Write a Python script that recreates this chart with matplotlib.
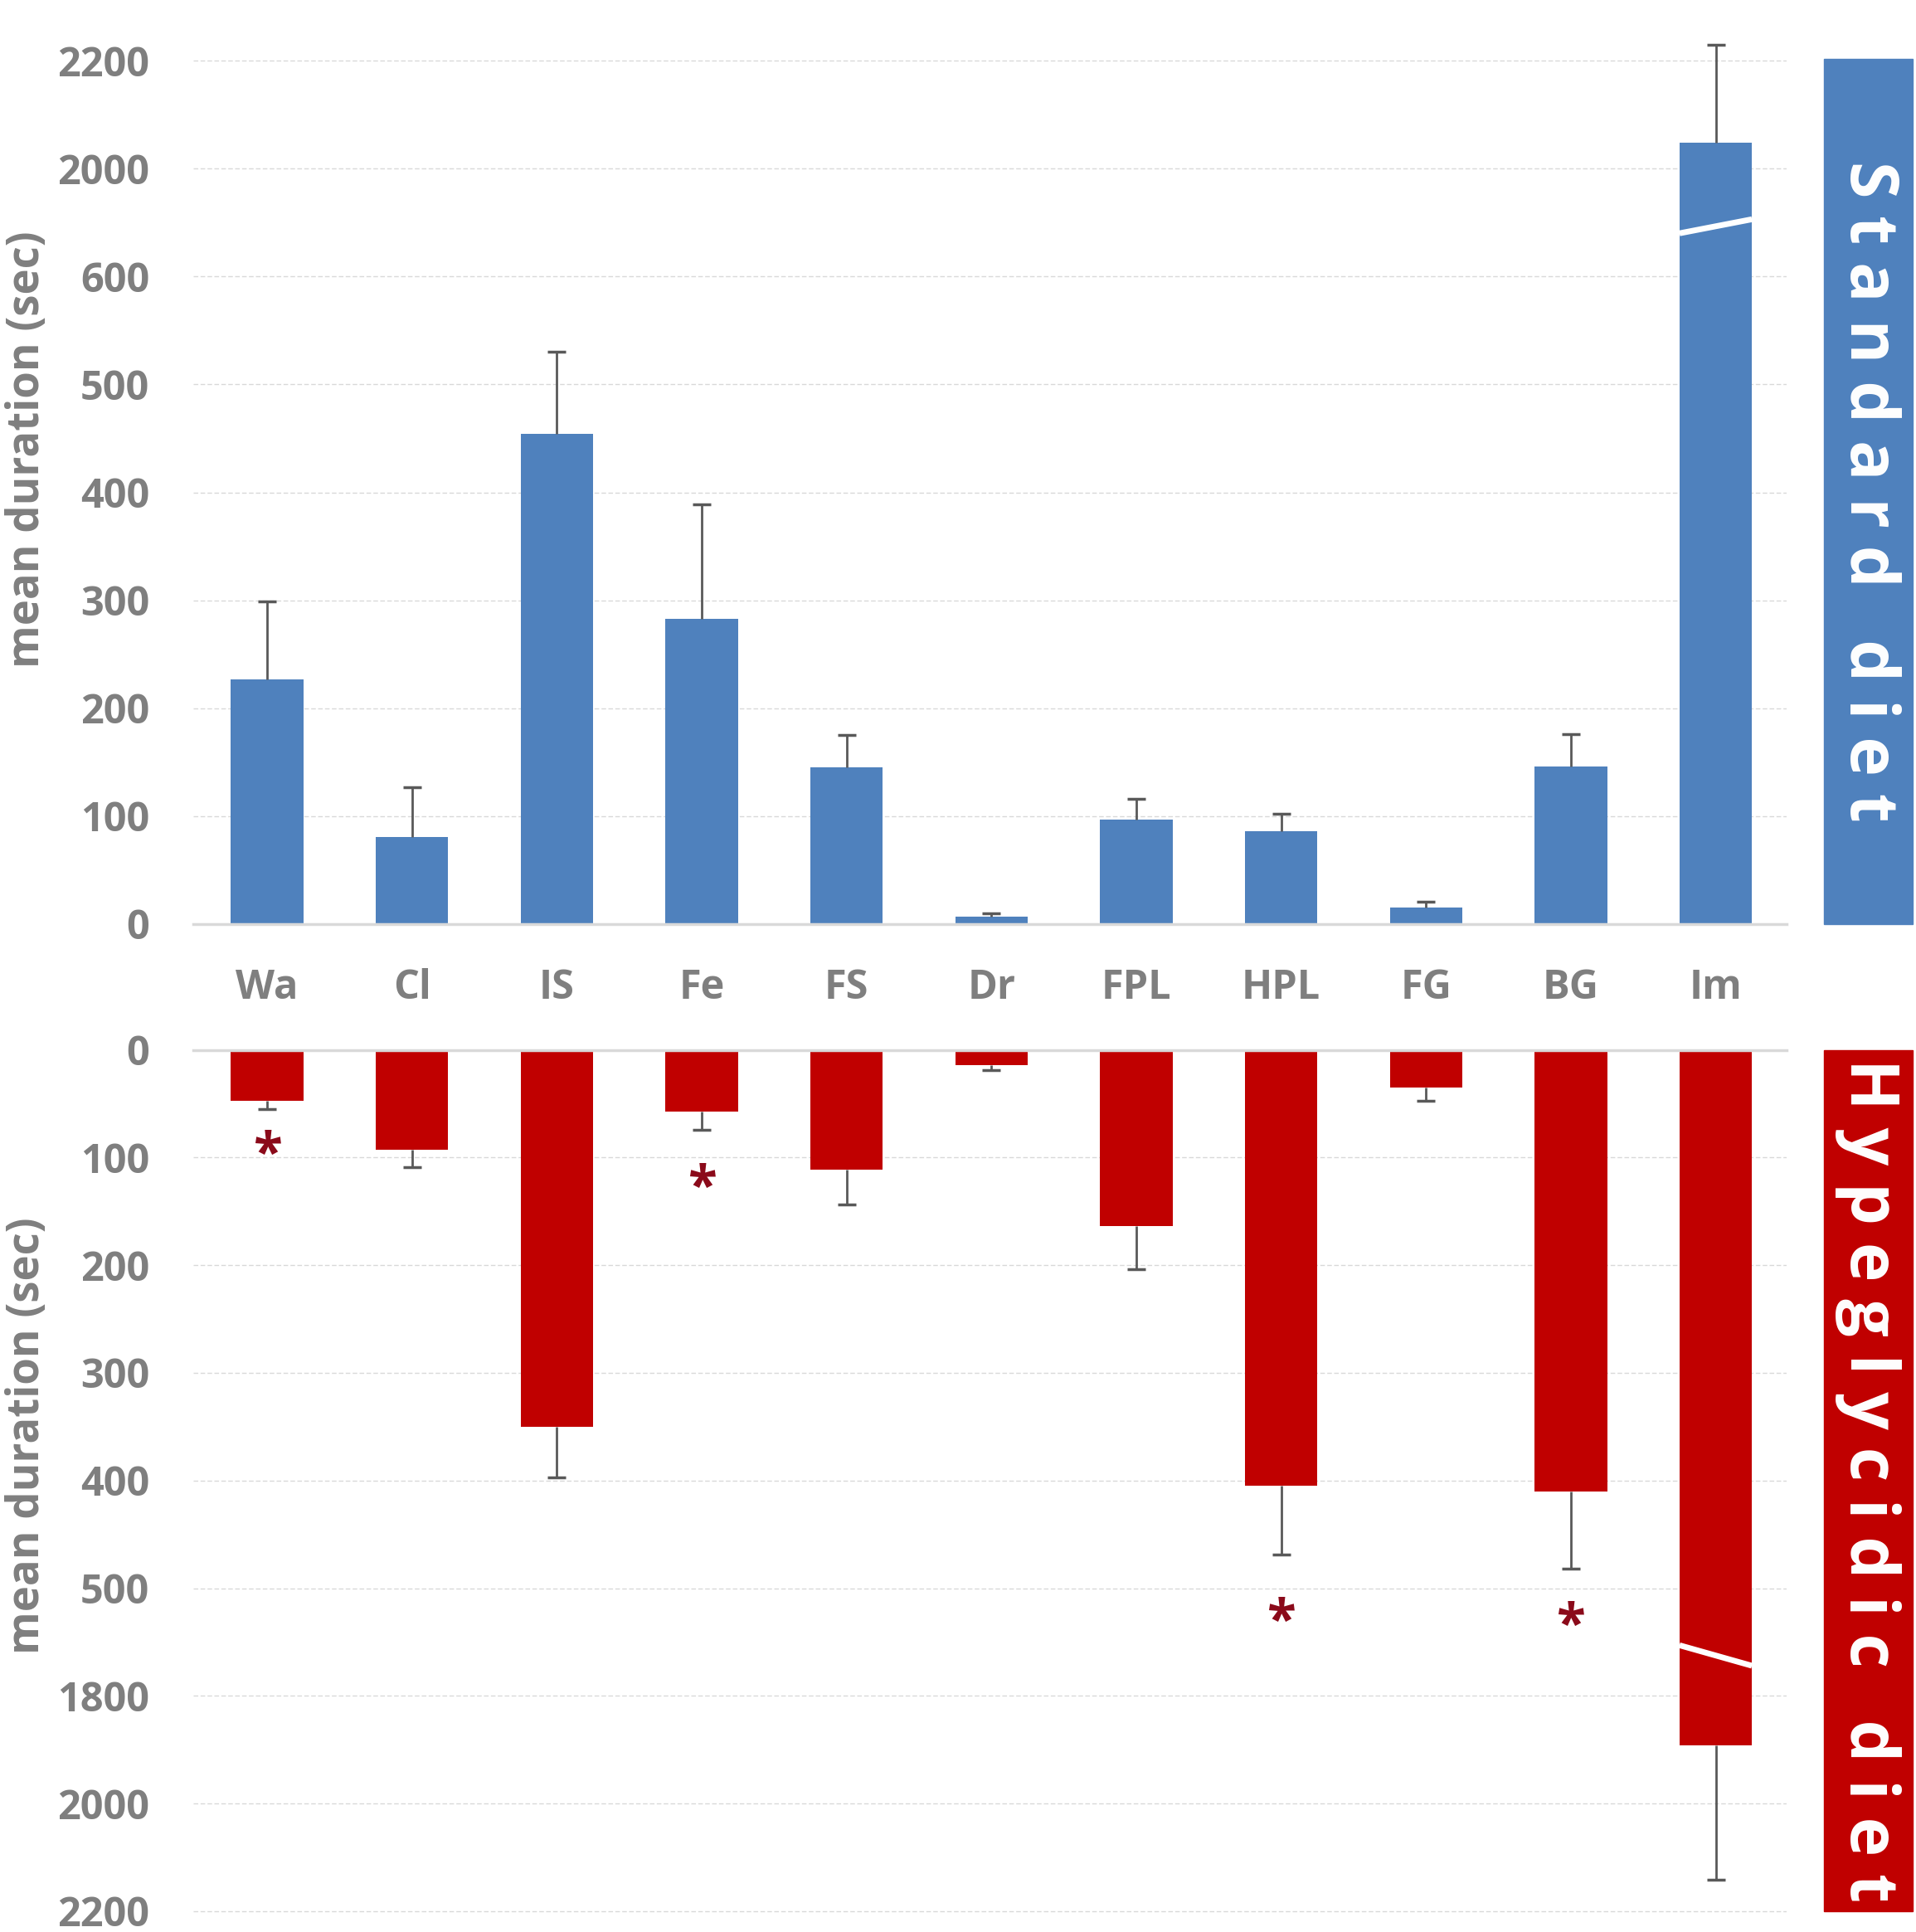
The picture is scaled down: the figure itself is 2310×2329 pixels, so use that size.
import numpy as np
import matplotlib
matplotlib.use('Agg')
import matplotlib.pyplot as plt
from matplotlib.patches import Rectangle

plt.rcParams['font.family'] = ['Open Sans', 'DejaVu Sans']
plt.rcParams['font.weight'] = 'bold'

# behaviours
categories = ['Wa', 'Cl', 'IS', 'Fe', 'FS', 'Dr', 'FPL', 'HPL', 'FG', 'BG', 'Im']

# standard diet: mean duration (sec) and upper error
std_mean = [227, 81, 454, 283, 145, 7, 97, 86, 15, 146, 2048]
std_err = [72, 46, 76, 106, 30, 3, 19, 16, 6, 30, 182]

# hyperglycidic diet
hyp_mean = [47, 93, 350, 57, 111, 14, 164, 405, 35, 410, 1892]
hyp_err = [8, 16, 47, 17, 33, 5, 40, 64, 12, 72, 249]

# significant differences
star_cats = ['Wa', 'Fe', 'HPL', 'BG']

top_ticks = [0, 100, 200, 300, 400, 500, 600, 2000, 2200]
bot_ticks = [0, 100, 200, 300, 400, 500, 1800, 2000, 2200]

BLUE = '#4f81bd'
RED = '#c00000'
GREY = '#7f7f7f'
LIGHT = '#d9d9d9'


# broken axes: linear part, compressed gap, then 200 per tick
def make_scale(lo, hi):
    def fwd(v):
        v = np.asarray(v, dtype=float)
        return np.where(v <= lo, v / 100,
                        np.where(v < hi, lo / 100 + (v - lo) / (hi - lo),
                                 lo / 100 + 1 + (v - hi) / 200))

    def inv(p):
        p = np.asarray(p, dtype=float)
        b = lo / 100
        return np.where(p <= b, p * 100,
                        np.where(p < b + 1, lo + (p - b) * (hi - lo),
                                 hi + (p - b - 1) * 200))
    return fwd, inv


fig = plt.figure(figsize=(23.1, 23.29), dpi=100)
ax1 = fig.add_axes([0.1009, 0.5217, 0.8316, 0.4581])
ax2 = fig.add_axes([0.1009, 0.0024, 0.8316, 0.4542])

x = np.arange(len(categories))

for ax, means, errs, ticks, color, (lo, hi) in [
        (ax1, std_mean, std_err, top_ticks, BLUE, (600, 2000)),
        (ax2, hyp_mean, hyp_err, bot_ticks, RED, (500, 1800))]:
    ax.set_yscale('function', functions=make_scale(lo, hi))
    ax.bar(x, means, width=0.5, color=color, zorder=2)
    # one-sided error bars: stem from bar end, cap only at the tip
    tips = np.array(means) + np.array(errs)
    ax.vlines(x, means, tips, color='#595959', lw=2, zorder=3)
    ax.plot(x, tips, linestyle='none', marker='_', markersize=16,
            markeredgewidth=2.5, color='#595959', zorder=3)
    ax.set_yticks(ticks)
    ax.set_yticklabels([str(t) for t in ticks])
    ax.tick_params(axis='y', length=0, pad=38, labelsize=35, labelcolor=GREY)
    ax.set_xlim(-0.51, 10.49)
    ax.grid(axis='y', color=LIGHT, linestyle=(0, (4, 2)), linewidth=1.0, zorder=0)
    for s in ax.spines.values():
        s.set_visible(False)

    # break marks on the Im bar
    fwd, inv = make_scale(lo, hi)
    im = len(categories) - 1
    if ax is ax1:
        ya, yb = inv(6.40), inv(6.53)
    else:
        ya, yb = inv(5.53), inv(5.72)
    ax.plot([im - 0.25, im + 0.25], [ya, yb], color='white', lw=5,
            solid_capstyle='butt', zorder=4)

ax1.set_ylim(0, 2240)
ax2.set_ylim(2230, 0)

ax1.spines['bottom'].set_visible(True)
ax1.spines['bottom'].set_color(LIGHT)
ax1.spines['bottom'].set_linewidth(2.5)
ax2.spines['top'].set_visible(True)
ax2.spines['top'].set_color(LIGHT)
ax2.spines['top'].set_linewidth(2.5)

ax1.set_xticks(x)
ax1.set_xticklabels(categories)
ax1.tick_params(axis='x', length=0, pad=38, labelsize=35, labelcolor=GREY)
ax2.set_xticks([])

# significance stars below the error bars
star_gap = {'Wa': 53, 'Fe': 64, 'HPL': 72, 'BG': 63}
for c in star_cats:
    i = categories.index(c)
    ax2.annotate('*', xy=(i, hyp_mean[i] + hyp_err[i]), xytext=(0, -star_gap[c]),
                 textcoords='offset points', ha='center', va='baseline',
                 fontsize=46, fontweight='bold', color='#8b0a1a')

# y labels
fig.text(33 / 2310, 1 - 542 / 2329, 'mean duration (sec)', rotation=90,
         ha='center', va='center', fontsize=38, color=GREY)
fig.text(33 / 2310, 1 - 1731 / 2329, 'mean duration (sec)', rotation=90,
         ha='center', va='center', fontsize=38, color=GREY)

# side labels
for (y0, y1), label, color in [((71, 1114), 'S t a n d a r d   d i e t', BLUE),
                               ((1266, 2304), 'H y p e g l y c i d i c   d i e t', RED)]:
    fig.patches.append(Rectangle((2199 / 2310, 1 - y1 / 2329), 107 / 2310,
                                 (y1 - y0) / 2329, transform=fig.transFigure,
                                 color=color, zorder=1))
    fig.text(2252 / 2310, 1 - (y0 + y1) / 2 / 2329, label, rotation=-90,
             ha='center', va='center', fontsize=58, color='white', zorder=2)

plt.savefig('out.png', dpi=100)
